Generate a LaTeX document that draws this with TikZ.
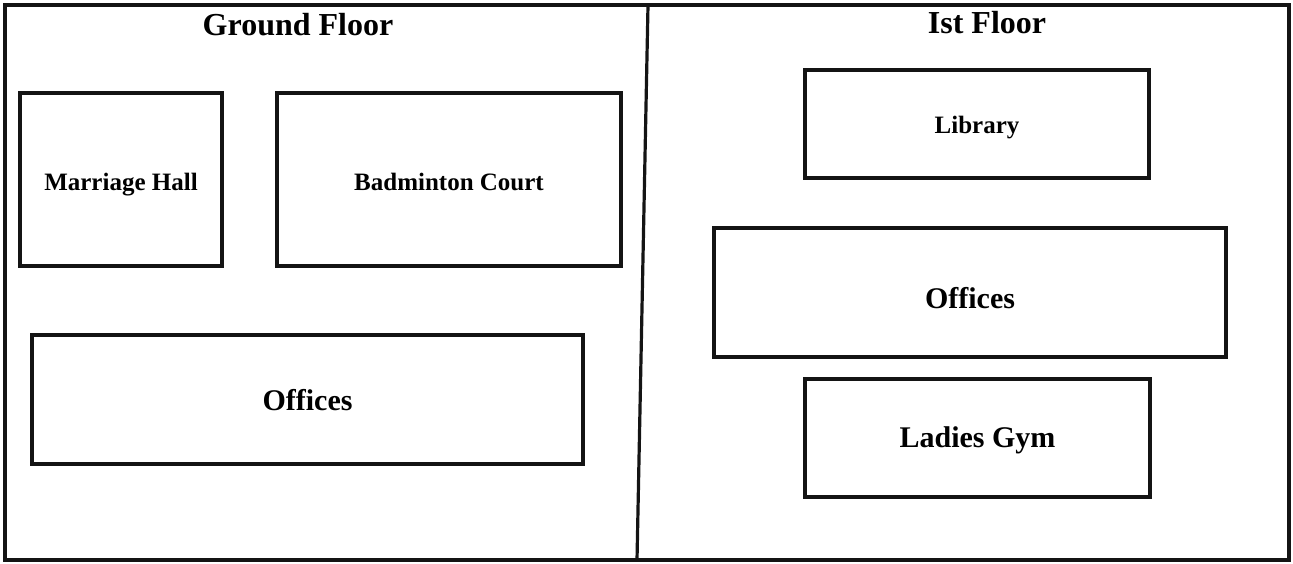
\documentclass[tikz,border=0pt]{standalone}
\usepackage{fontspec}
\setmainfont{Liberation Serif}
\usepackage{tikz}
\usetikzlibrary{positioning}
\definecolor{wallgray}{rgb}{0.08,0.08,0.08}

\begin{document}
\begin{tikzpicture}[x=0.5pt,y=-0.5pt,
    every node/.style={font=\bfseries},
    room/.style={draw=wallgray,line width=1.6pt,inner sep=0pt,align=center,text depth=0pt},
    roomsmall/.style={room,font=\bfseries\fontsize{12.5}{14}\selectfont,text height=10.8pt},
    roombig/.style={room,font=\bfseries\fontsize{15}{17}\selectfont,text height=11.4pt},
    floortitle/.style={font=\bfseries\fontsize{16}{18}\selectfont}]
  \useasboundingbox (0,0) rectangle (1293,563);
  \draw[wallgray,line width=1.6pt] (5,5) rectangle (1289,560);
  \coordinate (divtop) at (648,5);
  \coordinate (divbot) at (637,560);
  \draw[wallgray,line width=1.6pt] (divtop) -- (divbot);
  \node[floortitle] (ground) at (298,25) {Ground Floor};
  \node[floortitle] (first)  at (987,23) {Ist Floor};
  \node[roomsmall,minimum width=101pt,minimum height=86.5pt]   (hall)  at (121,179.5) {Marriage Hall};
  \node[roomsmall,minimum width=172pt,minimum height=86.5pt]   (court) at (449,179.5) {Badminton Court};
  \node[roombig,minimum width=275.5pt,minimum height=64.5pt]   (offg)  at (307.5,399.5) {Offices};
  \node[roomsmall,text height=9.3pt,minimum width=172pt,minimum height=54pt] (lib) at (977,124) {Library};
  \node[roombig,text height=16.4pt,minimum width=256pt,minimum height=64.5pt] (offf) at (970,292.5) {Offices};
  \node[roombig,text height=9.9pt,minimum width=172.5pt,minimum height=59pt] (gym) at (977.5,438) {Ladies Gym};
\end{tikzpicture}
\end{document}
